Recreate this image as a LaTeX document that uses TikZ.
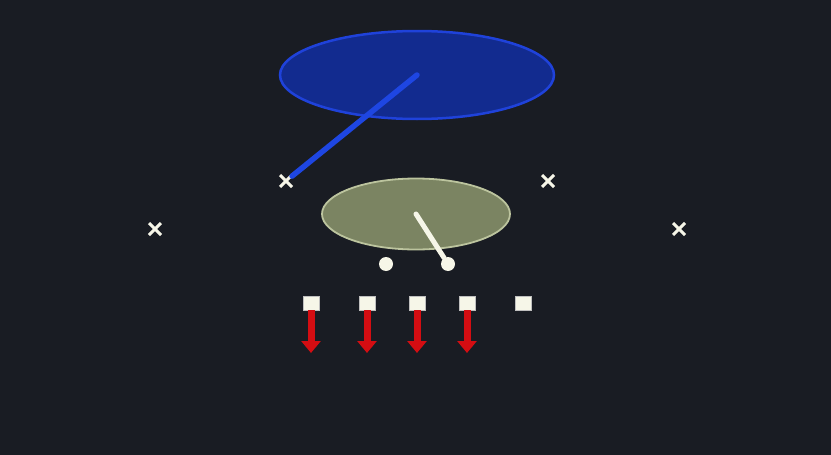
\documentclass[tikz,border=0pt]{standalone}
\usepackage{tikz}
\usetikzlibrary{arrows.meta, shapes.misc, shapes.geometric, positioning}
\definecolor{bg}{HTML}{191C23}
\definecolor{zoneblue}{HTML}{122B8F}
\definecolor{zoneblueline}{HTML}{1F42DA}
\definecolor{routeblue}{HTML}{1E46E2}
\definecolor{zonegreen}{HTML}{7B8462}
\definecolor{zonegreenline}{HTML}{BCC49E}
\definecolor{cream}{HTML}{F6F6E8}
\definecolor{blockred}{HTML}{D40D12}

\begin{document}
\begin{tikzpicture}[x=1pt, y=-1pt]
      \fill[bg] (0, 0) rectangle (831, 455);
      \useasboundingbox (0, 0) rectangle (831, 455);

      % zones
      \node[ellipse, fill=zoneblue, draw=zoneblueline, line width=2.5pt, minimum width=274pt, minimum height=88pt, inner sep=0pt] (deep) at (417, 75) {};
      \node[ellipse, fill=zonegreen, draw=zonegreenline, line width=1.8pt, minimum width=188pt, minimum height=71pt, inner sep=0pt] (flat) at (416, 214) {};

      % defenders
      \node[cross out, draw=cream, line width=3pt, minimum size=9pt, inner sep=0pt] (d1) at (286, 181) {};
      \node[cross out, draw=cream, line width=3pt, minimum size=9pt, inner sep=0pt] (d2) at (548, 181) {};
      \node[cross out, draw=cream, line width=3pt, minimum size=9pt, inner sep=0pt] (d3) at (155, 229) {};
      \node[cross out, draw=cream, line width=3pt, minimum size=9pt, inner sep=0pt] (d4) at (679, 229) {};

      % backs
      \node[circle, fill=cream, inner sep=0pt, minimum size=14pt] (b1) at (386, 264) {};
      \node[circle, fill=cream, inner sep=0pt, minimum size=14pt] (b2) at (448, 264) {};

      % drops
      \draw[routeblue, line width=5.5pt, line cap=round] (deep.center) -- (d1);
      \draw[cream, line width=5pt, line cap=round] (flat.center) -- (b2);

      % line
      \foreach \i/\x in {1/311, 2/367, 3/417, 4/467, 5/523} {
        \node[rectangle, fill=cream, draw=gray!50, line width=0.6pt, inner sep=0pt, minimum width=16pt, minimum height=14pt] (o\i) at (\x, 303) {};
        \coordinate (e\i) at (\x, 353);
      }
      \foreach \i in {1, 2, 3, 4} {
        \draw[-{Triangle[width=19pt, length=12pt]}, blockred, line width=7pt] (o\i.south) -- (e\i);
      }

    \end{tikzpicture}
\end{document}
